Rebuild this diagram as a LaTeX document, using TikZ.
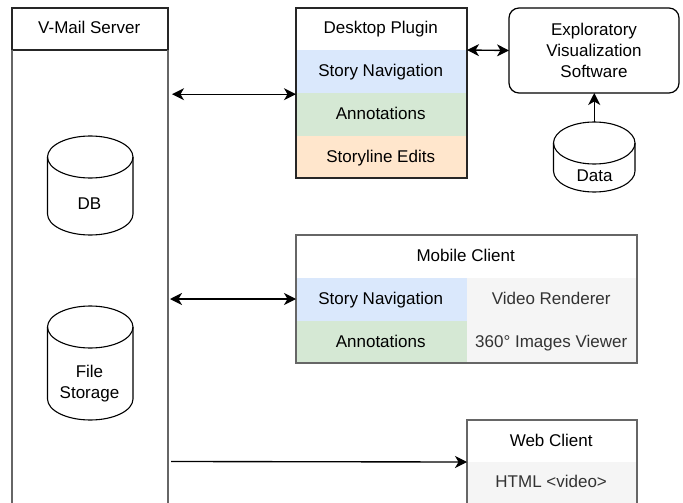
\documentclass[tikz,border=0pt]{standalone}
\usepackage{fontspec}
\setmainfont{Liberation Sans}
\usetikzlibrary{arrows.meta,calc}
\definecolor{navblue}{HTML}{DAE8FC}
\definecolor{notegreen}{HTML}{D5E8D4}
\definecolor{editorange}{HTML}{FFE6CC}
\definecolor{softgray}{HTML}{F5F5F5}
\definecolor{edgegray}{HTML}{666666}
\definecolor{softtext}{HTML}{333333}
\tikzset{
  x=1pt,y=-1pt,
  every node/.style={font=\fontsize{17}{21}\selectfont,inner sep=0pt,outer sep=0pt,align=center},
  cell/.style n args={2}{anchor=north west,minimum width=#1,minimum height=#2,text height=13pt,text depth=3pt,execute at begin node={\hspace*{-1.6pt}}},
  dark/.style={draw=black!85,line width=1.1pt},
  soft/.style={draw=edgegray,line width=1.1pt},
  link/.style={draw=black,line width=1.35pt},
  tip/.tip={Stealth[length=12pt,width=12pt,inset=3.5pt]},
  cylline/.style={draw=black,line width=1.1pt,fill=white},
}
\newcommand{\drumshape}[3]{% node name, half width, cap half height
  \path[cylline] ($(#1.north west)+(0,#3)$)
    arc[start angle=180,end angle=360,x radius=#2,y radius=#3]
    -- ($(#1.south east)+(0,-#3)$)
    arc[start angle=0,end angle=180,x radius=#2,y radius=#3]
    -- cycle;
  \draw[draw=black,line width=1.1pt] ($(#1.north west)+(0,#3)$)
    arc[start angle=180,end angle=0,x radius=#2,y radius=#3];
}
\begin{document}
\begin{tikzpicture}
\useasboundingbox (0,0) rectangle (683,503);
% V-Mail Server
\node[cell={156}{42},dark] (server) at (12,8) {V-Mail Server};
\coordinate (serverbl) at (12,503);
\coordinate (serverbr) at (168,503);
\draw[soft] (server.south west) -- (serverbl);
\draw[soft] (server.south east) -- (serverbr);
% Storage cylinders
\node[cell={85.5}{99}] (db) at (47.5,136) {};
\drumshape{db}{42.75}{21}
\node at (89.5,203.5) {DB};
\node[cell={85.5}{114}] (files) at (47.5,306) {};
\drumshape{files}{42.75}{21}
\node at (89.5,383.5) {File\\Storage};
% Desktop Plugin
\node[cell={171}{42}] (desktop) at (296,8) {Desktop Plugin};
\node[cell={171}{43},fill=navblue] (dnav) at (296,50) {Story Navigation};
\node[cell={171}{43},fill=notegreen] (dann) at (296,93) {Annotations};
\node[cell={171}{42},fill=editorange] (dedit) at (296,136) {Storyline Edits};
\draw[dark] (desktop.north west) rectangle (dedit.south east);
% Exploratory software
\node[anchor=north west,minimum width=170,minimum height=85,draw=black,line width=1.2pt,rounded corners=10pt] (explore) at (509,8) {Exploratory\\Visualization\\Software};
\node[cell={81.5}{70}] (data) at (553.5,122) {};
\drumshape{data}{40.75}{21}
\node at (594.5,175.5) {Data};
% Mobile Client
\node[cell={341}{43}] (mobile) at (296,235) {Mobile Client};
\node[cell={171}{43},fill=navblue] (mnav) at (296,278) {Story Navigation};
\node[cell={171}{42},fill=notegreen] (mann) at (296,321) {Annotations};
\node[cell={170}{43},fill=softgray,text=softtext] (mvideo) at (467,278) {Video Renderer};
\node[cell={170}{42},fill=softgray,text=softtext] (mimage) at (467,321) {360° Images Viewer};
\draw[soft] (mobile.north west) rectangle (mimage.south east);
% Web Client
\node[cell={170}{42}] (web) at (467,420) {Web Client};
\node[cell={170}{41},fill=softgray,text=softtext] (html) at (467,462) {HTML <video>};
\draw[soft] (web.south west) -- (web.north west) -- (web.north east) -- (web.south east);
\draw[soft] (html.north west) -- (html.south west);
\draw[soft] (html.north east) -- (html.south east);
% Connectors
\coordinate (sdesk) at (172,94.2);
\coordinate (smob) at (170,299);
\coordinate (sweb) at (171,461.5);
\draw[link,tip-tip] (sdesk) -- (sdesk -| dann.west);
\draw[link,tip-tip] (smob) -- (smob -| mnav.west);
\draw[link,-tip] (sweb) -- (web.south west);
\draw[link,tip-tip] (dnav.north east) -- (explore.west);
\draw[link,-tip] (data.north) -- (explore.south -| data.north);
\end{tikzpicture}
\end{document}
